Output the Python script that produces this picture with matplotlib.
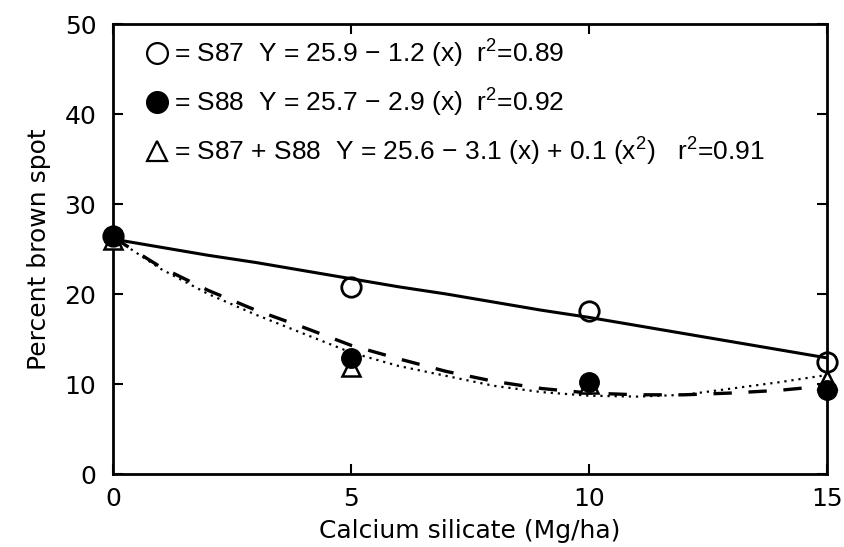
import numpy as np
import matplotlib
matplotlib.use("Agg")
import matplotlib.pyplot as plt

# --- data ---
rate = [0, 5, 10, 15]
s87 = [26.5, 20.8, 18.1, 12.5]
s88 = [26.5, 12.9, 10.2, 9.3]
both = [26.0, 11.9, 10.0, 10.5]

# fitted lines at each Mg/ha
fit_x = [0, 1, 2, 3, 4, 5, 6, 7, 8, 9, 10, 11, 12, 13, 14, 15]
fit_s87 = [26.1, 25.2, 24.3, 23.5, 22.6, 21.7, 20.8, 20.0, 19.1, 18.2, 17.4, 16.5, 15.6, 14.7, 13.8, 12.9]
fit_s88 = [26.3, 23.0, 20.4, 18.2, 16.3, 14.3, 12.8, 11.4, 10.3, 9.5, 9.0, 8.8, 8.8, 9.0, 9.3, 9.8]
fit_both = [26.3, 22.8, 20.0, 17.7, 15.6, 13.5, 12.0, 10.9, 9.8, 9.1, 8.7, 8.6, 8.8, 9.5, 10.2, 11.0]

legend_rows = [
    ("o", "none", "= S87  Y = 25.9 \u2212 1.2 (x)  r$^{2}$=0.89"),
    ("o", "black", "= S88  Y = 25.7 \u2212 2.9 (x)  r$^{2}$=0.92"),
    ("^", "none", "= S87 + S88  Y = 25.6 \u2212 3.1 (x) + 0.1 (x$^{2}$)   r$^{2}$=0.91"),
]

plt.rcParams['font.family'] = ['DejaVu Sans']
plt.rcParams['mathtext.fontset'] = 'custom'
plt.rcParams['mathtext.rm'] = 'Liberation Sans'

fig = plt.figure(figsize=(8.44, 5.47), dpi=100)
ax = fig.add_axes([113 / 844, 73 / 547, 714 / 844, 450 / 547])

# lines
ax.plot(fit_x, fit_s87, 'k-', lw=2.2, zorder=2)
ax.plot(fit_x, fit_s88, color='k', lw=2.4, dashes=(5.5, 5), zorder=2)
ax.plot(fit_x, fit_both, color='k', lw=1.6, dashes=(1, 2.2), zorder=2)

# points
ax.plot(rate, both, '^', ms=13, mfc='white', mec='k', mew=1.8, clip_on=False, zorder=3)
ax.plot(rate, s88, 'o', ms=14, mfc='k', mec='k', clip_on=False, zorder=4)
ax.plot(rate, s87, 'o', ms=14, mfc='none', mec='k', mew=2, clip_on=False, zorder=5)

ax.set_xlim(0, 15)
ax.set_ylim(0, 50)
ax.set_xticks([0, 5, 10, 15])
ax.set_yticks([0, 10, 20, 30, 40, 50])
ax.tick_params(direction='in', length=7, width=1.5, top=True, right=True,
               labelsize=18)
ax.tick_params(axis='y', pad=12)
ax.tick_params(axis='x', pad=9)
for s in ax.spines.values():
    s.set_linewidth(2)

ax.set_xlabel('Calcium silicate (Mg/ha)', fontsize=18, labelpad=6)
ax.set_ylabel('Percent brown spot', fontsize=18, labelpad=10)

# legend block written as text
row_y = [0.936, 0.827, 0.718]
for (mk, fc, txt), yy in zip(legend_rows, row_y):
    ax.plot([0.061], [yy], mk, ms=15, mfc=fc, mec='k', mew=1.6,
            transform=ax.transAxes, clip_on=False)
    ax.text(0.085, yy, txt, transform=ax.transAxes, va='center', ha='left',
            fontsize=19, family='Liberation Sans')

fig.savefig('out.png', dpi=100)
